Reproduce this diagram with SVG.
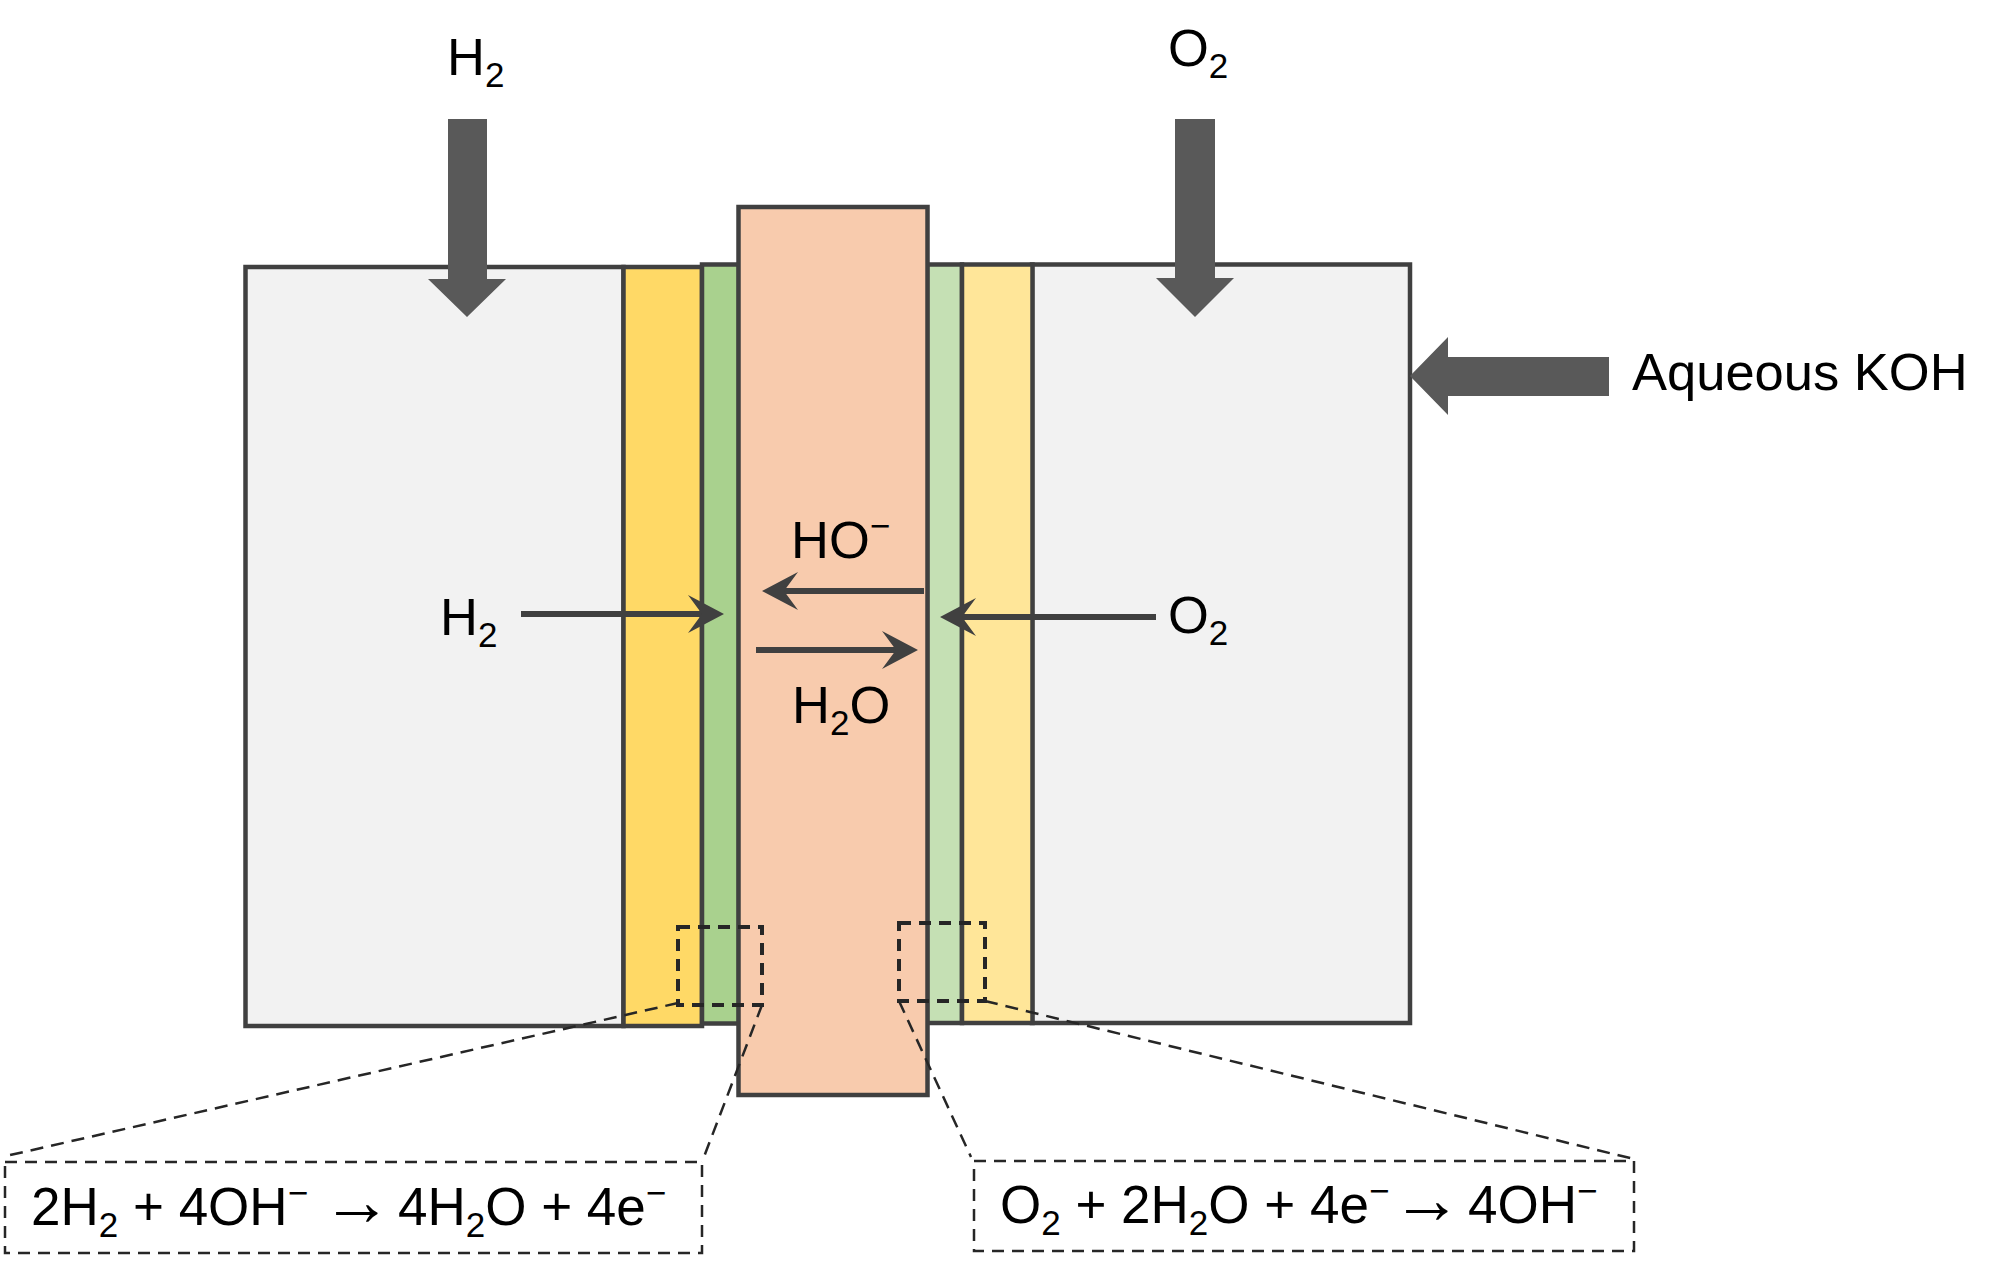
<svg xmlns="http://www.w3.org/2000/svg" width="2000" height="1270" viewBox="0 0 2000 1270">
<style>
.layer{stroke:#404040;stroke-width:4.500}
.t{font-family:"Liberation Sans",Arial,sans-serif;font-size:52.500px;fill:#000}
.r{font-size:53px}
.s{font-size:35px}
.a{font-size:70px}
.big{fill:#595959;stroke:none}
.thin{stroke:#404040;stroke-width:6;fill:none;marker-end:url(#head)}
.dbox{fill:none;stroke:#262626;stroke-width:4;stroke-dasharray:12 8}
.dline{fill:none;stroke:#262626;stroke-width:2.500;stroke-dasharray:13 8}
</style>
<defs>
<marker id="head" markerUnits="userSpaceOnUse" markerWidth="40" markerHeight="40" refX="16" refY="19" orient="auto">
<path d="M0 0L36 19L0 38L14 19Z" fill="#404040"/>
</marker>
</defs>
<rect width="2000" height="1270" fill="#fff"/>
<g id="gas-channel-left"><rect class="layer" x="245.500" y="267" width="378" height="759" fill="#f2f2f2"/></g>
<g id="gas-channel-right"><rect class="layer" x="1032" y="264.500" width="378" height="758.500" fill="#f2f2f2"/></g>
<g id="electrode-left"><rect class="layer" x="623.500" y="267" width="78.500" height="759" fill="#ffd966"/></g>
<g id="catalyst-left"><rect class="layer" x="702" y="264.500" width="37" height="759" fill="#a9d18e"/></g>
<g id="catalyst-right"><rect class="layer" x="927" y="264.500" width="35" height="758.500" fill="#c5e0b4"/></g>
<g id="electrode-right"><rect class="layer" x="962" y="264.500" width="70.500" height="758.500" fill="#ffe699"/></g>
<g id="membrane"><rect class="layer" x="738.500" y="207" width="189" height="888" fill="#f8cbad"/></g>
<g id="connectors">
<polygon class="big" points="448,119 487,119 487,279 506,279 467,317 428,279 448,279"/>
<polygon class="big" points="1175,119 1215,119 1215,278 1234,278 1195,317 1156,278 1175,278"/>
<polygon class="big" points="1609,357 1609,396 1448,396 1448,415 1410,376 1448,337 1448,357"/>
<path class="thin" d="M521 614H704"/>
<path class="thin" d="M1156 617H960"/>
<path class="thin" d="M924 591H782"/>
<path class="thin" d="M756 650H898"/>
<path class="dline" d="M678 1003L6 1156"/>
<path class="dline" d="M762 1005L702 1162"/>
<path class="dline" d="M899 1001L971 1157"/>
<path class="dline" d="M985 1001L1634 1159"/>
</g>
<g id="zoom-left"><rect class="dbox" x="678" y="927" width="84" height="78"/></g>
<g id="zoom-right"><rect class="dbox" x="899" y="923" width="86" height="78"/></g>
<g id="label-h2-top"><text class="t" x="447" y="75">H<tspan class="s" dy="12">2</tspan></text></g>
<g id="label-o2-top"><text class="t" x="1168" y="66">O<tspan class="s" dy="12">2</tspan></text></g>
<g id="label-koh"><text class="t" x="1632" y="390">Aqueous KOH</text></g>
<g id="label-h2-mid"><text class="t" x="440" y="635">H<tspan class="s" dy="12">2</tspan></text></g>
<g id="label-o2-mid"><text class="t" x="1168" y="633">O<tspan class="s" dy="12">2</tspan></text></g>
<g id="label-ho"><text class="t" x="791" y="558">HO<tspan class="s" dy="-20">−</tspan></text></g>
<g id="label-h2o"><text class="t" x="792" y="723">H<tspan class="s" dy="12">2</tspan><tspan dy="-12">O</tspan></text></g>
<g id="reaction-anode"><rect class="dbox" style="stroke-width:2.500" x="5" y="1162" width="697" height="91"/><text class="t r" x="31" y="1225">2H<tspan class="s" dy="12">2</tspan><tspan dy="-12"> + 4OH</tspan><tspan class="s" dy="-20">−</tspan><tspan class="a" x="322" dy="20">→</tspan><tspan x="398" dy="0">4H</tspan><tspan class="s" dy="12">2</tspan><tspan dy="-12">O + 4e</tspan><tspan class="s" dy="-20">−</tspan></text></g>
<g id="reaction-cathode"><rect class="dbox" style="stroke-width:2.500" x="974" y="1161" width="660" height="90"/><text class="t r" x="1000" y="1223">O<tspan class="s" dy="12">2</tspan><tspan dy="-12"> + 2H</tspan><tspan class="s" dy="12">2</tspan><tspan dy="-12">O + 4e</tspan><tspan class="s" dy="-20">−</tspan><tspan class="a" x="1392" dy="20">→</tspan><tspan x="1468" dy="0">4OH</tspan><tspan class="s" dy="-20">−</tspan></text></g>
</svg>
